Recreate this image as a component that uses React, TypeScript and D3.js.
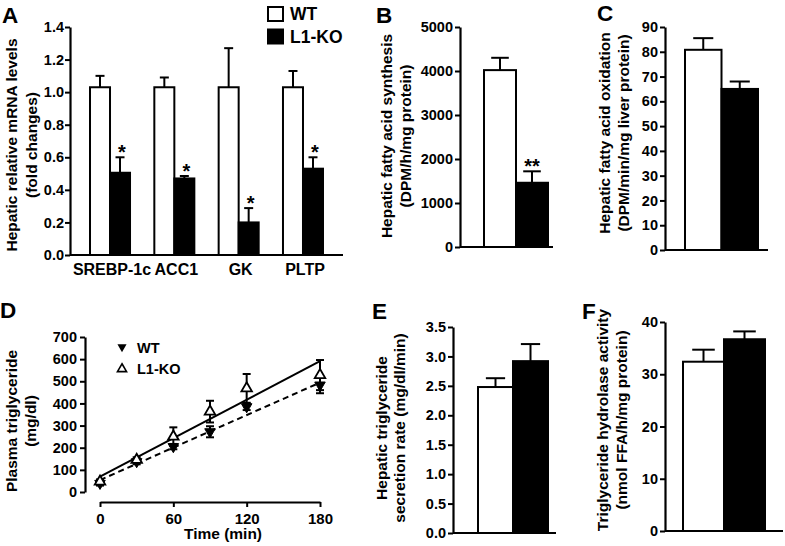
import React, { useRef, useEffect } from 'react';
import * as d3 from 'd3';

const FONT = '"Liberation Sans", Arial, Helvetica, sans-serif';

// groups shared by every panel
const groups = ['WT', 'L1-KO'];

// A - hepatic mRNA levels
const genes = ['SREBP-1c', 'ACC1', 'GK', 'PLTP'];
const mrnaWT = [1.03, 1.03, 1.03, 1.03];
const mrnaWTErr = [0.07, 0.06, 0.24, 0.1];
const mrnaKO = [0.505, 0.47, 0.2, 0.53];
const mrnaKOErr = [0.095, 0.015, 0.088, 0.07];
const mrnaSig = ['*', '*', '*', '*'];
const mrnaTicks = [0, 0.2, 0.4, 0.6, 0.8, 1.0, 1.2, 1.4];

// B - fatty acid synthesis
const fasValues = [4020, 1460];
const fasErr = [280, 260];
const fasSig = ['', '**'];
const fasTicks = [0, 1000, 2000, 3000, 4000, 5000];

// C - fatty acid oxidation
const faoValues = [80.8, 65];
const faoErr = [4.7, 3];
const faoTicks = [0, 10, 20, 30, 40, 50, 60, 70, 80, 90];

// D - plasma triglyceride time course
const times = [0, 30, 60, 90, 120, 180];
const tgWT = [39, 137, 205, 272, 385, 483];
const tgWTErr = [10, 12, 12, 25, 15, 37];
const tgKO = [47, 145, 250, 363, 468, 528];
const tgKOErr = [10, 12, 42, 49, 65, 68];
const fitTimes = [0, 180];
const fitWT = [54, 494];
const fitKO = [69, 591];
const tgTicks = [0, 100, 200, 300, 400, 500, 600, 700];
const timeTicks = [0, 60, 120, 180];

// E - TG secretion rate
const secValues = [2.48, 2.92];
const secErr = [0.15, 0.29];
const secTicks = [0, 0.5, 1.0, 1.5, 2.0, 2.5, 3.0, 3.5];

// F - TG hydrolase activity
const tghValues = [32.4, 36.7];
const tghErr = [2.3, 1.5];
const tghTicks = [0, 10, 20, 30, 40];

const styleAxis = (g, size = 14.5) => {
  g.selectAll('path').attr('stroke', '#000').attr('stroke-width', 2.2);
  g.selectAll('line').attr('stroke', '#000').attr('stroke-width', 2);
  g.selectAll('text')
    .attr('fill', '#000')
    .style('font-family', FONT)
    .style('font-weight', 'bold')
    .style('font-size', `${size}px`);
};

const label = (svg, text, x, y, size, anchor = 'start', rotate = false) => {
  svg.append('text')
    .attr('transform', rotate ? `translate(${x},${y}) rotate(-90)` : `translate(${x},${y})`)
    .attr('text-anchor', anchor)
    .style('font-family', FONT)
    .style('font-weight', 'bold')
    .style('font-size', `${size}px`)
    .text(text);
};

const errorBar = (svg, cx, yA, yB, cap) => {
  svg.append('line').attr('x1', cx).attr('x2', cx).attr('y1', yA).attr('y2', yB)
    .attr('stroke', '#000').attr('stroke-width', 2);
  svg.append('line').attr('x1', cx - cap / 2).attr('x2', cx + cap / 2).attr('y1', yB).attr('y2', yB)
    .attr('stroke', '#000').attr('stroke-width', 2);
};

// two-bar panel (B, C, E, F)
const barPanel = (svg, o) => {
  const y = d3.scaleLinear().domain([0, o.max]).range(o.yRange);
  const x = d3.scaleBand().domain(groups).range(o.barRange);

  const ax = svg.append('g')
    .attr('transform', `translate(${o.axisX},0)`)
    .call(d3.axisLeft(y).tickValues(o.ticks).tickFormat(o.fmt).tickSize(5).tickSizeOuter(0).tickPadding(2));
  styleAxis(ax);

  // bars
  groups.forEach((grp, i) => {
    svg.append('rect')
      .attr('x', x(grp))
      .attr('y', y(o.values[i]))
      .attr('width', x.bandwidth())
      .attr('height', y(0) - y(o.values[i]))
      .attr('fill', i === 0 ? '#fff' : '#000')
      .attr('stroke', '#000')
      .attr('stroke-width', 2);
    const cx = x(grp) + x.bandwidth() / 2;
    errorBar(svg, cx, y(o.values[i]), y(o.values[i] + o.errs[i]), x.bandwidth() * 0.55);
    if (o.sig && o.sig[i]) {
      label(svg, o.sig[i], cx, y(o.values[i] + o.errs[i]) + 2, 20, 'middle');
    }
  });

  // baseline
  svg.append('line')
    .attr('x1', o.axisX).attr('x2', o.axisEnd)
    .attr('y1', y(0)).attr('y2', y(0))
    .attr('stroke', '#000').attr('stroke-width', 2.2);

  label(svg, o.title[0], o.titleX[0], o.titleY, 15.5, 'middle', true);
  label(svg, o.title[1], o.titleX[1], o.titleY, 15.5, 'middle', true);
};

const Figure = () => {
  const svgRef = useRef(null);

  useEffect(() => {
    const svg = d3.select(svgRef.current);
    svg.selectAll('*').remove();

    // ---------- A ----------
    const yA = d3.scaleLinear().domain([0, 1.4]).range([255, 27]);
    const xA = d3.scaleBand().domain(genes).range([70, 343]).paddingInner(0.378).paddingOuter(0.311);
    const xAin = d3.scaleBand().domain(groups).range([0, xA.bandwidth()]);

    const axA = svg.append('g')
      .attr('transform', 'translate(70,0)')
      .call(d3.axisLeft(yA).tickValues(mrnaTicks).tickFormat(d3.format('.1f')).tickSize(5).tickSizeOuter(0).tickPadding(1));
    styleAxis(axA);

    genes.forEach((gene, gi) => {
      const vals = [mrnaWT[gi], mrnaKO[gi]];
      const errs = [mrnaWTErr[gi], mrnaKOErr[gi]];
      groups.forEach((grp, i) => {
        const bx = xA(gene) + xAin(grp);
        svg.append('rect')
          .attr('x', bx).attr('y', yA(vals[i]))
          .attr('width', xAin.bandwidth()).attr('height', yA(0) - yA(vals[i]))
          .attr('fill', i === 0 ? '#fff' : '#000')
          .attr('stroke', '#000').attr('stroke-width', 2);
        const cx = bx + xAin.bandwidth() / 2;
        errorBar(svg, cx, yA(vals[i]), yA(vals[i] + errs[i]), 9);
        if (i === 1 && mrnaSig[gi]) {
          label(svg, mrnaSig[gi], cx + 2, yA(vals[i] + errs[i]) + 2, 20, 'middle');
        }
      });
      label(svg, gene, xA(gene) + xA.bandwidth() / 2 + 2, 275, 16, 'middle');
    });
    svg.append('line').attr('x1', 70).attr('x2', 343).attr('y1', yA(0)).attr('y2', yA(0))
      .attr('stroke', '#000').attr('stroke-width', 2.2);

    label(svg, 'Hepatic relative mRNA levels', 17, 145, 15.5, 'middle', true);
    label(svg, '(fold changes)', 37, 145, 15.5, 'middle', true);

    // legend
    groups.forEach((grp, i) => {
      svg.append('rect')
        .attr('x', 268).attr('y', 7 + i * 22.5).attr('width', 15).attr('height', 14)
        .attr('fill', i === 0 ? '#fff' : '#000').attr('stroke', '#000').attr('stroke-width', 2);
      label(svg, grp, 290, 20 + i * 22.5, 17.5);
    });

    // ---------- B ----------
    barPanel(svg, {
      max: 5000, yRange: [247, 27], barRange: [484, 548], axisX: 460, axisEnd: 553,
      ticks: fasTicks, fmt: d3.format('d'), values: fasValues, errs: fasErr, sig: fasSig,
      title: ['Hepatic fatty acid synthesis', '(DPM/h/mg protein)'], titleX: [392, 411], titleY: 136,
    });

    // ---------- C ----------
    barPanel(svg, {
      max: 90, yRange: [250, 27], barRange: [685, 758], axisX: 665, axisEnd: 768,
      ticks: faoTicks, fmt: d3.format('d'), values: faoValues, errs: faoErr,
      title: ['Hepatic fatty acid oxidation', '(DPM/min/mg liver protein)'], titleX: [610, 629], titleY: 133,
    });

    // ---------- D ----------
    const yD = d3.scaleLinear().domain([0, 700]).range([492, 337]);
    const xD = d3.scaleLinear().domain([0, 180]).range([100, 320]);

    const axDy = svg.append('g')
      .attr('transform', 'translate(85,0)')
      .call(d3.axisLeft(yD).tickValues(tgTicks).tickSize(5).tickSizeOuter(0).tickPadding(3));
    styleAxis(axDy);
    const axDx = svg.append('g')
      .attr('transform', 'translate(0,502)')
      .call(d3.axisBottom(xD).tickValues(timeTicks).tickSize(5).tickSizeOuter(0).tickPadding(6));
    styleAxis(axDx, 15);

    const fitLine = d3.line().x((d) => xD(d[0])).y((d) => yD(d[1]));
    svg.append('path').attr('d', fitLine(fitTimes.map((t, i) => [t, fitKO[i]])))
      .attr('fill', 'none').attr('stroke', '#000').attr('stroke-width', 2);
    svg.append('path').attr('d', fitLine(fitTimes.map((t, i) => [t, fitWT[i]])))
      .attr('fill', 'none').attr('stroke', '#000').attr('stroke-width', 2).attr('stroke-dasharray', '6,4');

    const tri = d3.symbol(d3.symbolTriangle, 48);
    times.forEach((t, i) => {
      const cx = xD(t);
      errorBar(svg, cx, yD(tgKO[i]), yD(tgKO[i] + tgKOErr[i]), 8);
      errorBar(svg, cx, yD(tgKO[i]), yD(tgKO[i] - tgKOErr[i]), 8);
      errorBar(svg, cx, yD(tgWT[i]), yD(tgWT[i] + tgWTErr[i]), 8);
      errorBar(svg, cx, yD(tgWT[i]), yD(tgWT[i] - tgWTErr[i]), 8);
      svg.append('path').attr('d', tri())
        .attr('transform', `translate(${cx},${yD(tgWT[i])}) rotate(180)`)
        .attr('fill', '#000').attr('stroke', '#000').attr('stroke-width', 1);
      svg.append('path').attr('d', tri())
        .attr('transform', `translate(${cx},${yD(tgKO[i])})`)
        .attr('fill', '#fff').attr('stroke', '#000').attr('stroke-width', 1.8);
    });

    // legend D
    const triLeg = d3.symbol(d3.symbolTriangle, 36);
    svg.append('path').attr('d', triLeg()).attr('transform', 'translate(122,347) rotate(180)').attr('fill', '#000');
    svg.append('path').attr('d', triLeg()).attr('transform', 'translate(122,369)')
      .attr('fill', '#fff').attr('stroke', '#000').attr('stroke-width', 1.6);
    label(svg, 'WT', 137, 353, 14.5);
    label(svg, 'L1-KO', 137, 374, 14.5);

    label(svg, 'Plasma triglyceride', 17, 421, 15.5, 'middle', true);
    label(svg, '(mg/dl)', 36, 421, 15.5, 'middle', true);
    label(svg, 'Time (min)', 223, 539, 15.5, 'middle');

    // ---------- E ----------
    barPanel(svg, {
      max: 3.5, yRange: [533, 327], barRange: [478, 548], axisX: 453, axisEnd: 556,
      ticks: secTicks, fmt: d3.format('.1f'), values: secValues, errs: secErr,
      title: ['Hepatic triglyceride', 'secretion rate (mg/dl/min)'], titleX: [387, 405], titleY: 428,
    });

    // ---------- F ----------
    barPanel(svg, {
      max: 40, yRange: [531, 322], barRange: [683, 765], axisX: 665, axisEnd: 783,
      ticks: tghTicks, fmt: d3.format('d'), values: tghValues, errs: tghErr,
      title: ['Triglyceride hydrolase activity', '(nmol FFA/h/mg protein)'], titleX: [608, 627], titleY: 420,
    });

    // panel letters
    [['A', 2, 23], ['B', 376, 23], ['C', 597, 21], ['D', 0, 318], ['E', 372, 319], ['F', 582, 319]]
      .forEach(([t, x, y]) => label(svg, t, x, y, 22.5));
  }, []);

  return (
    <svg
      ref={svgRef}
      width={785}
      height={546}
      style={{ position: 'absolute', left: 0, top: 0, background: '#fff' }}
    />
  );
};

export default function App() {
  return <Figure />;
}
